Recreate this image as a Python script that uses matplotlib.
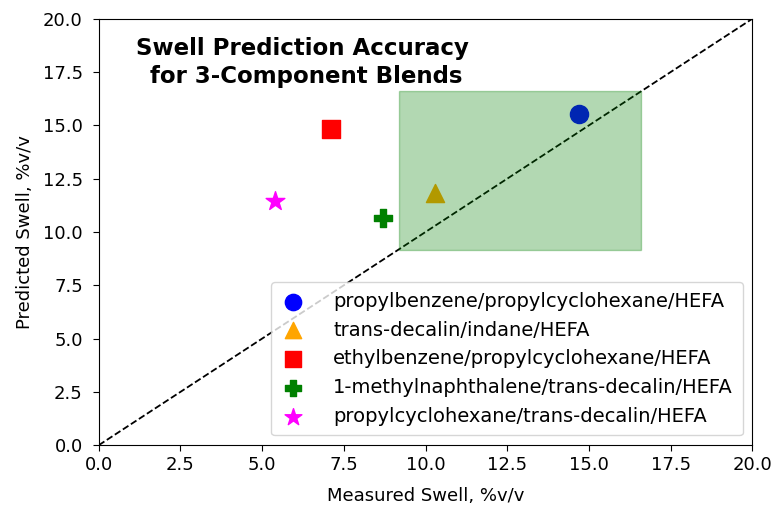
import matplotlib
matplotlib.use("Agg")
import matplotlib.pyplot as plt
from matplotlib.patches import Rectangle

labels = [
    "propylbenzene/propylcyclohexane/HEFA",
    "trans-decalin/indane/HEFA",
    "ethylbenzene/propylcyclohexane/HEFA",
    "1-methylnaphthalene/trans-decalin/HEFA",
    "propylcyclohexane/trans-decalin/HEFA",
]
measured = [14.7, 10.3, 7.1, 8.7, 5.4]
predicted = [15.55, 11.85, 14.85, 10.65, 11.45]
markers = ["o", "^", "s", "P", "*"]
colors = ["blue", "orange", "red", "green", "magenta"]
sizes = [170, 170, 170, 170, 200]

# accuracy band corners
band_x0, band_y0 = 9.2, 9.15
band_x1, band_y1 = 16.6, 16.6

fig, ax = plt.subplots(figsize=(7.78, 5.07), dpi=100)
fig.subplots_adjust(left=0.127, right=0.967, top=0.963, bottom=0.122)

for x, y, m, c, s, lab in zip(measured, predicted, markers, colors, sizes, labels):
    ax.scatter(x, y, marker=m, color=c, s=s, label=lab, zorder=2)

ax.plot([0, 20], [0, 20], "k--", lw=1.3, zorder=3)
ax.add_patch(Rectangle((band_x0, band_y0), band_x1 - band_x0, band_y1 - band_y0,
                       facecolor="green", alpha=0.3, edgecolor="green", zorder=4))

ax.set_xlim(0, 20)
ax.set_ylim(0, 20)
ticks = [0, 2.5, 5, 7.5, 10, 12.5, 15, 17.5, 20]
ax.set_xticks(ticks)
ax.set_yticks(ticks)
ax.tick_params(labelsize=13, length=4.5)
ax.tick_params(axis="y", pad=7)
ax.set_xlabel("Measured Swell, %v/v", fontsize=13, labelpad=9)
ax.set_ylabel("Predicted Swell, %v/v", fontsize=13, labelpad=6)

ax.text(0.312, 0.957, "Swell Prediction Accuracy\n for 3-Component Blends",
        transform=ax.transAxes, fontsize=16.5, fontweight="bold",
        ha="center", va="top", linespacing=1.3)

ax.legend(loc="lower right", fontsize=14, handlelength=1.3, handletextpad=1.4,
          labelspacing=0.5, borderpad=0.5, markerscale=0.9)

fig.savefig("out.png", dpi=100)
